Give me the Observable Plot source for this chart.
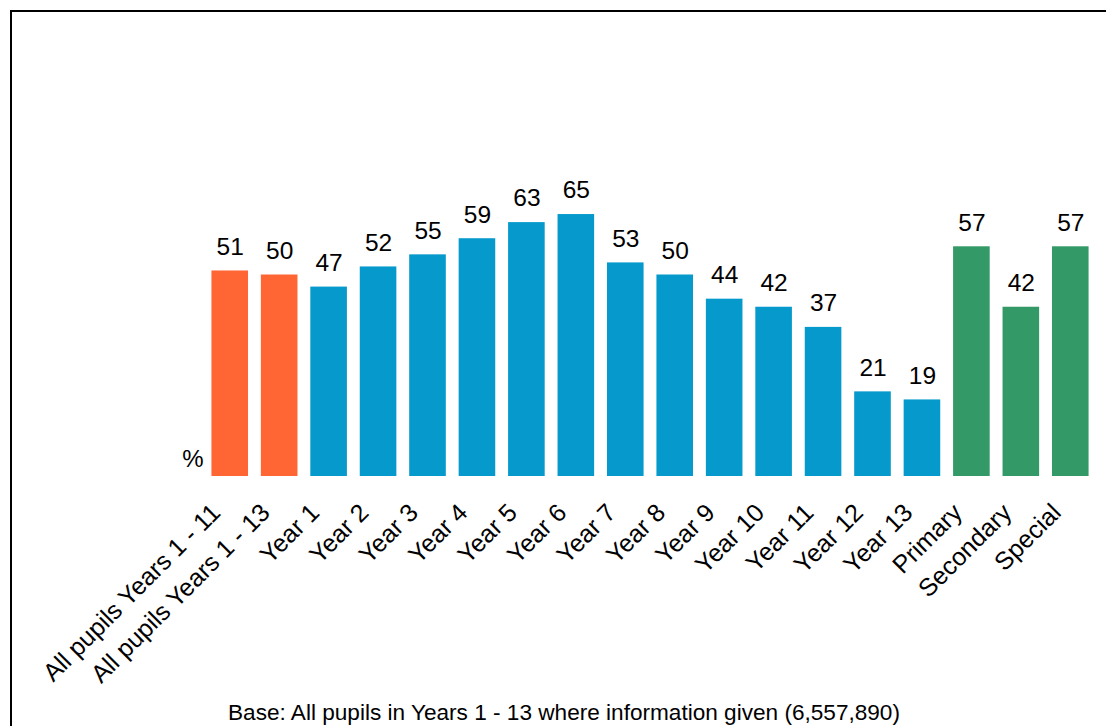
<!DOCTYPE html>
<html>
<head>
<meta charset="utf-8">
<script src="https://cdn.jsdelivr.net/npm/d3@7"></script>
<script src="https://cdn.jsdelivr.net/npm/@observablehq/plot@0.6"></script>
<style>
  html, body { margin: 0; padding: 0; background: #fff; }
  #wrap { position: relative; width: 1106px; height: 726px; overflow: hidden; font-family: "Liberation Sans", Arial, sans-serif; }
  #frame { position: absolute; left: 10px; top: 10px; width: 1200px; height: 800px; border: 2px solid #000; box-sizing: border-box; }
  #chart { position: absolute; left: 0; top: 0; }
  #caption { position: absolute; left: 0; width: 1128px; top: 700px; text-align: center; font-size: 22.6px; color: #000; white-space: nowrap; }
</style>
</head>
<body>
<div id="wrap">
  <div id="frame"></div>
  <div id="chart"></div>
  <div id="caption">Base: All pupils in Years 1 - 13 where information given (6,557,890)</div>
</div>
<script>
const categories = ["All pupils Years 1 - 11", "All pupils Years 1 - 13", "Year 1", "Year 2", "Year 3", "Year 4", "Year 5", "Year 6", "Year 7", "Year 8", "Year 9", "Year 10", "Year 11", "Year 12", "Year 13", "Primary", "Secondary", "Special"];
const values = [51, 50, 47, 52, 55, 59, 63, 65, 53, 50, 44, 42, 37, 21, 19, 57, 42, 57];
const groups = ["All", "All", "Year", "Year", "Year", "Year", "Year", "Year", "Year", "Year", "Year", "Year", "Year", "Year", "Year", "Phase", "Phase", "Phase"];
const groupNames = ["All", "Year", "Phase"];
const groupColors = ["#FF6633", "#0599CC", "#339966"];

const data = categories.map((c, i) => ({category: c, value: values[i], group: groups[i]}));

const chart = Plot.plot({
  width: 1106,
  height: 690,
  marginLeft: 205,
  marginRight: 11,
  marginTop: 73,
  marginBottom: 214,
  style: {fontFamily: "'Liberation Sans', Arial, sans-serif", fontSize: "24px", color: "#000", background: "transparent"},
  x: {domain: categories, paddingInner: 0.26, paddingOuter: 0.13, round: false, label: null},
  y: {domain: [0, 100], axis: null},
  color: {domain: groupNames, range: groupColors},
  marks: [
    Plot.barY(data, {x: "category", y: "value", fill: "group"}),
    Plot.text(data, {x: "category", y: "value", text: d => String(d.value), dy: -24, fontSize: 24.5, fill: "#000"}),
    Plot.text(["%"], {frameAnchor: "bottom-left", dx: -2, dy: -10, textAnchor: "end", fontSize: 24, fill: "#000"}),
    Plot.axisX({tickSize: 0, tickRotate: -45, tickPadding: 32, fontSize: 25, label: null, dx: -14})
  ]
});
document.getElementById("chart").appendChild(chart);
</script>
</body>
</html>
